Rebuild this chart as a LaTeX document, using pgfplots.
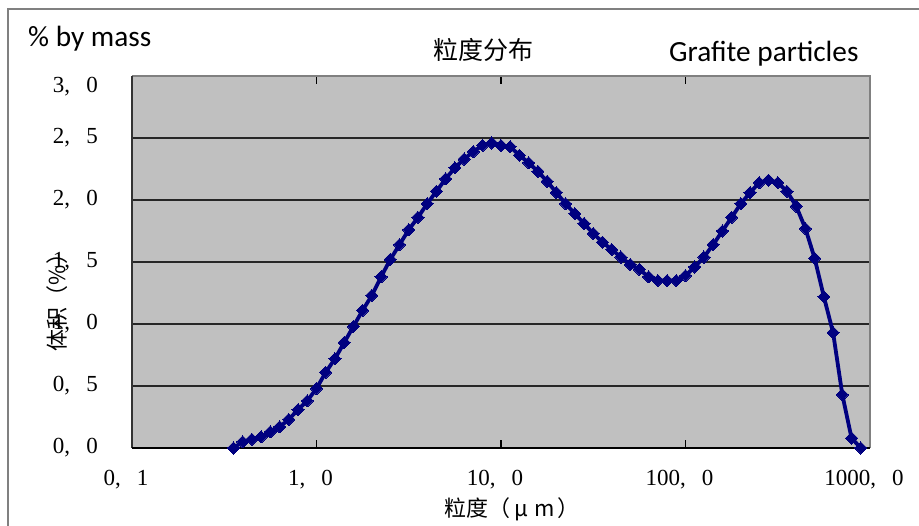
\documentclass[border=0pt]{standalone}
\usepackage{fontspec}
\setmainfont{Liberation Serif}
\newfontfamily\cjk{Noto Sans CJK SC}
\newfontfamily\carlito{Carlito}
\usepackage{pgfplots}
\usepackage{pgfplotstable}
\pgfplotsset{compat=1.18}
\definecolor{plotGray}{HTML}{C0C0C0}
\definecolor{frameGray}{HTML}{808080}
\definecolor{navySeries}{HTML}{000080}
\newcommand\tl[2]{#1,\hspace{0.7em}#2}

% particle size (um) vs volume %
\pgfplotstableread{
d v
0.3548 0.00
0.3981 0.05
0.4467 0.07
0.5012 0.09
0.5623 0.13
0.6310 0.17
0.7079 0.23
0.7943 0.31
0.8913 0.38
1.0000 0.48
1.1220 0.61
1.2589 0.72
1.4125 0.85
1.5849 0.98
1.7783 1.11
1.9953 1.23
2.2387 1.38
2.5119 1.52
2.8184 1.64
3.1623 1.76
3.5481 1.86
3.9811 1.97
4.4668 2.07
5.0119 2.17
5.6234 2.26
6.3096 2.33
7.0795 2.39
7.9433 2.44
8.9125 2.46
10.000 2.44
11.220 2.43
12.589 2.36
14.125 2.30
15.849 2.23
17.783 2.15
19.953 2.06
22.387 1.97
25.119 1.89
28.184 1.81
31.623 1.73
35.481 1.66
39.811 1.60
44.668 1.54
50.119 1.48
56.234 1.44
63.096 1.38
70.795 1.35
79.433 1.35
89.125 1.35
100.00 1.39
112.20 1.46
125.89 1.54
141.25 1.64
158.49 1.75
177.83 1.86
199.53 1.97
223.87 2.06
251.19 2.14
281.84 2.16
316.23 2.14
354.81 2.07
398.11 1.95
446.68 1.77
501.19 1.53
562.34 1.22
630.96 0.93
707.95 0.43
794.33 0.08
891.25 0.00
}\psd

\begin{document}
\begin{tikzpicture}
\useasboundingbox (0pt,0pt) rectangle (919pt,526pt);
\clip (0pt,0pt) rectangle (919pt,526pt);
\draw[frameGray, line width=1.5pt] (8pt,-5pt) -- (8pt,517pt) -- (930pt,517pt);
\begin{axis}[at={(132pt,78pt)}, anchor=south west, scale only axis,
    width=738pt, height=372pt,
    xmode=log, xmin=0.1, xmax=1000, ymin=0, ymax=3,
    axis background/.style={fill=plotGray},
    axis line style={draw=none},
    clip=false,
    xtick={0.1,1,10,100,1000},
    xticklabels={\tl{0}{1},\tl{1}{0},\tl{10}{0},\tl{100}{0},\tl{1000}{0}},
    xminorticks=false,
    tick align=inside, major tick length=8pt,
    xtick style={black, line width=1.5pt},
    ytick style={draw=none},
    ytick={0,0.5,1,1.5,2,2.5},
    yticklabels={\tl{0}{0},\tl{0}{5},\tl{1}{0},\tl{1}{5},\tl{2}{0},\tl{2}{5}},
    extra y ticks={3},
    extra y tick labels={\tl{3}{0}},
    extra y tick style={major grid style={draw=none}, yticklabel style={yshift=-11pt}},
    ymajorgrids,
    major grid style={black!85, line width=1.5pt},
    xticklabel style={font=\fontsize{23}{26}\selectfont, anchor=north, inner sep=0pt, yshift=-22pt, xshift=-6pt},
    yticklabel style={font=\fontsize{23}{26}\selectfont, anchor=east, inner sep=0pt, xshift=-34pt},
  ]
\draw[frameGray, line width=2pt] (rel axis cs:0,1) -- (rel axis cs:1,1) -- (rel axis cs:1,0);
\draw[black!80, line width=2pt] (rel axis cs:0,0) -- (rel axis cs:0,1);
\draw[black, line width=2pt] (rel axis cs:0,0) -- (rel axis cs:1,0);
\addplot[navySeries, line width=3.8pt, mark=square*, mark size=4.3pt,
    mark options={rotate=45, solid, line width=0pt}] table[x=d, y=v]{\psd};
\end{axis}
\node[anchor=base west, inner sep=0pt, font=\carlito\fontsize{29.3}{32}\selectfont] at (28pt,479pt) {\% by mass};
\node[anchor=base west, inner sep=0pt, font=\carlito\fontsize{29.3}{32}\selectfont] at (669pt,464pt) {Grafite particles};
\node[inner sep=0pt, font=\cjk\fontsize{25}{28}\selectfont] at (483pt,476pt) {粒度分布};
\node[inner sep=0pt, font=\cjk\fontsize{22}{26}\selectfont] at (512pt,17pt) {粒度（\hspace{4pt}μ\hspace{6pt}m\hspace{2pt}）};
\node[inner sep=0pt, rotate=90, font=\cjk\fontsize{22}{26}\selectfont] at (57pt,229pt) {体积（\%）};
\end{tikzpicture}
\end{document}
